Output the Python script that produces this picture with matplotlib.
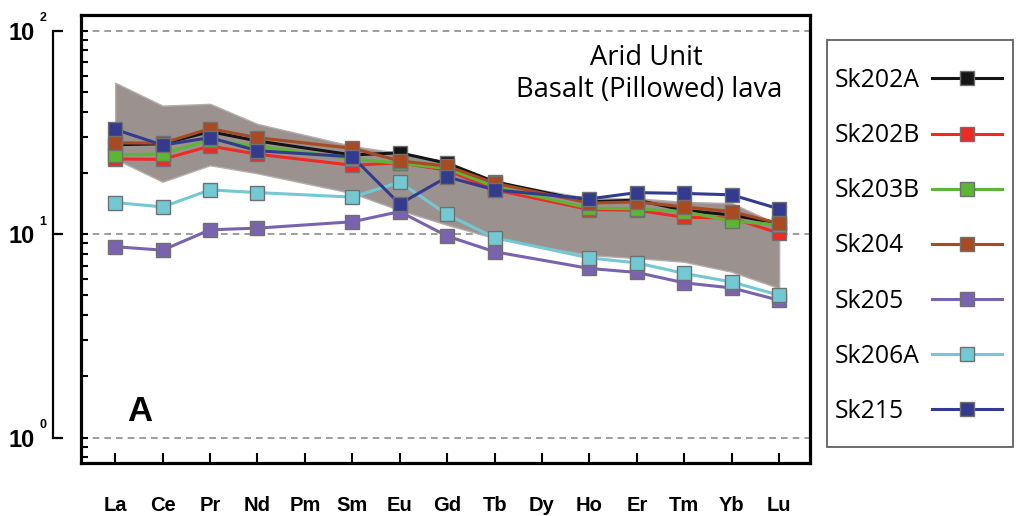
import numpy as np
import matplotlib
matplotlib.use('Agg')
import matplotlib.pyplot as plt
from matplotlib.patches import Rectangle
from matplotlib.lines import Line2D
from matplotlib.ticker import LogLocator, NullFormatter, NullLocator

# REE order on the x axis (Pm and Dy not measured)
elements = ['La', 'Ce', 'Pr', 'Nd', 'Pm', 'Sm', 'Eu', 'Gd', 'Tb', 'Dy', 'Ho', 'Er', 'Tm', 'Yb', 'Lu']
measured = ['La', 'Ce', 'Pr', 'Nd', 'Sm', 'Eu', 'Gd', 'Tb', 'Ho', 'Er', 'Tm', 'Yb', 'Lu']

# grey field
band_upper = [55.5, 42.8, 43.7, 34.8, 27.1, 25.0, 22.7, 18.1, 15.0, 15.0, 14.4, 14.2, 11.1]
band_lower = [23.4, 18.1, 21.8, 19.9, 15.9, 13.1, 11.1, 9.55, 7.88, 7.62, 7.31, 6.53, 5.42]

samples = ['Sk202A', 'Sk202B', 'Sk203B', 'Sk204', 'Sk205', 'Sk206A', 'Sk215']
sk202a = [27.5, 27.8, 31.9, 28.7, 24.5, 25.1, 22.3, 18.1, 14.4, 14.7, 13.1, 12.4, 11.3]
sk202b = [23.4, 23.3, 27.1, 24.7, 21.8, 22.4, 20.6, 16.5, 13.2, 13.1, 12.1, 12.0, 10.1]
sk203b = [24.5, 24.8, 29.0, 27.1, 23.4, 22.3, 21.0, 17.1, 13.4, 13.3, 12.9, 11.6, 11.1]
sk204 = [28.1, 28.0, 33.0, 29.8, 26.4, 22.9, 21.6, 17.8, 14.2, 14.4, 13.6, 12.9, 11.3]
sk205 = [8.67, 8.34, 10.5, 10.7, 11.5, 12.9, 9.78, 8.19, 6.78, 6.48, 5.76, 5.44, 4.73]
sk206a = [14.3, 13.6, 16.5, 16.0, 15.2, 18.0, 12.5, 9.6, 7.64, 7.22, 6.41, 5.82, 5.01]
sk215 = [32.7, 27.4, 29.8, 25.7, 24.0, 14.06, 19.1, 16.5, 14.9, 16.0, 15.85, 15.6, 13.3]
series = [sk202a, sk202b, sk203b, sk204, sk205, sk206a, sk215]
colors = ['#151515', '#ee2a24', '#5cb534', '#a84a22', '#7a63ae', '#72c9d3', '#343b8f']

decades = [1, 10, 100]
decade_exp = ['0', '1', '2']

xpos = np.array([elements.index(e) for e in measured])

fig = plt.figure(figsize=(10.16, 5.16), dpi=100)
W, H = 1016, 516
ax = fig.add_axes([81 / W, 1 - 463 / H, 729 / W, 448 / H])

ax.fill_between(xpos, band_lower, band_upper, facecolor='#9b928f',
                edgecolor='#b3aeac', linewidth=1, zorder=1)

handles = []
for name, vals, c in zip(samples, series, colors):
    ln, = ax.plot(xpos, vals, color=c, lw=2.2, marker='s', markersize=9.5,
                  markerfacecolor=c, markeredgecolor='#707070',
                  markeredgewidth=1.0, label=name, zorder=3)
    handles.append(ln)

ax.set_yscale('log')
ax.set_ylim(10 ** -0.125, 10 ** 2.077)
ax.set_xlim(-0.72, 14.65)

for yv in decades:
    ax.axhline(yv, color='#8c8c8c', lw=1.2, ls=(0, (4, 3)), zorder=0)

ax.set_xticks(range(len(elements)))
ax.set_xticklabels(elements, fontsize=14.5, fontweight='bold', family='Liberation Sans')
ax.tick_params(axis='x', direction='in', length=7, width=1.5, pad=24, top=False)
ax.yaxis.set_ticks_position('both')
ax.yaxis.set_major_locator(LogLocator(base=10, numticks=10))
ax.yaxis.set_minor_locator(LogLocator(base=10, subs=np.arange(2, 10), numticks=10))
ax.yaxis.set_minor_formatter(NullFormatter())
ax.tick_params(axis='y', which='both', direction='in', labelleft=False,
               length=5, width=1.5)
for s in ax.spines.values():
    s.set_linewidth(2.3)

# separate bracket axis with the decade labels
ax2 = ax.twinx()
ax2.set_yscale('log')
ax2.set_ylim(ax.get_ylim())
for k in ['right', 'top', 'bottom']:
    ax2.spines[k].set_visible(False)
ax2.spines['left'].set_visible(True)
ax2.spines['left'].set_position(('axes', -28 / 729))
ax2.spines['left'].set_bounds(1, 100)
ax2.spines['left'].set_linewidth(1.6)
ax2.yaxis.set_ticks_position('left')
ax2.set_yticks(decades)
ax2.set_yticklabels(['10'] * 3, fontsize=17, fontweight='bold',
                    family='Liberation Sans')
ax2.yaxis.set_minor_locator(NullLocator())
ax2.tick_params(axis='y', which='major', direction='in', length=7, width=1.6, pad=13)
# exponents sit above the base, as in the original
ytrans = ax2.get_yaxis_transform() + matplotlib.transforms.ScaledTranslation(
    0, 12.5 / 100, fig.dpi_scale_trans)
for yv, e in zip(decades, decade_exp):
    ax2.text(-38 / 729, yv, e, transform=ytrans, fontsize=9, fontweight='bold',
             family='Liberation Sans', ha='center', va='center')

ax.text(0.776, 0.888, 'Arid Unit', transform=ax.transAxes, ha='center',
        va='baseline', fontsize=19.7, family='Open Sans')
ax.text(0.779, 0.818, 'Basalt (Pillowed) lava', transform=ax.transAxes,
        ha='center', va='baseline', fontsize=19.7, family='Open Sans')
ax.text(0.081, 0.116, 'A', transform=ax.transAxes, ha='center', va='center',
        fontsize=25, fontweight='bold', family='Liberation Sans')

# legend box on the right: labels and handles as two legends so the text sits left
fig.patches.append(Rectangle((827 / W, 1 - 447 / H), 186 / W, 407 / H,
                             transform=fig.transFigure, fill=False,
                             edgecolor='#606060', linewidth=1.3))
lprop = {'family': 'Open Sans', 'size': 17.8}
blank = [Line2D([], [], alpha=0) for _ in samples]
fig.legend(blank, samples, loc='upper left',
           bbox_to_anchor=(835 / W, 1 - 68 / H), frameon=False,
           borderpad=0, borderaxespad=0, handlelength=0,
           handletextpad=0, labelspacing=1.22, prop=lprop)
fig.legend(handles, [''] * len(samples), loc='upper left',
           bbox_to_anchor=(932 / W, 1 - 68 / H), frameon=False,
           borderpad=0, borderaxespad=0, handlelength=2.83,
           handletextpad=0, labelspacing=1.22, prop=lprop)

fig.savefig('out.png', dpi=100)
